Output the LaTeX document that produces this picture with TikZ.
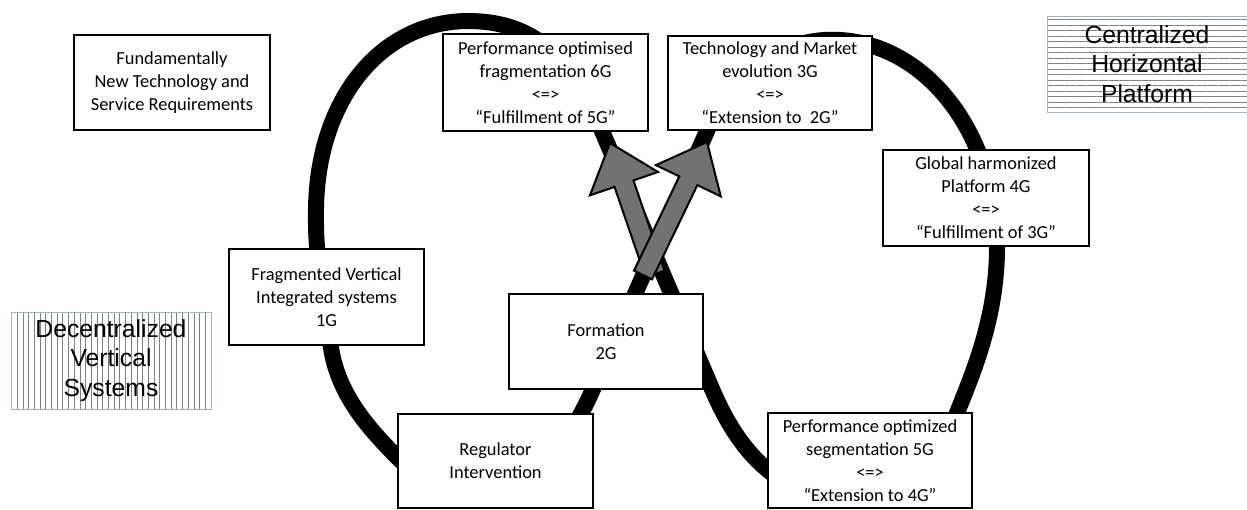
\documentclass[tikz,border=0pt]{standalone}
\usepackage{fontspec}
\setmainfont{Carlito}
\newfontfamily\arialfont{Liberation Sans}
\usetikzlibrary{calc, patterns.meta}

\definecolor{arrowgray}{RGB}{118,113,113}
\definecolor{frameblue}{RGB}{160,178,205}

\tikzset{
  stage/.style={draw=black, line width=2.5pt, fill=white, align=center,
    inner sep=0pt, font=\fontsize{18.4}{23}\selectfont},
  ring/.style={line width=16pt, black, line join=round},
  blockarrow/.style={draw=black, line width=2pt, fill=arrowgray, line join=miter},
  stripebox/.style={draw=frameblue, line width=0.8pt, align=center,
    inner sep=0pt, font=\arialfont\fontsize{24.7}{29.5}\selectfont},
}

% fat arrow from tail #1 to tip #2
\newcommand{\fatarrow}[2]{%
  \coordinate (base) at ($(#2)!43pt!(#1)$);
  \draw[blockarrow] ($(#1)!10pt!90:(#2)$) -- ($(base)!10pt!90:(#2)$)
    -- ($(base)!36pt!90:(#2)$) -- (#2) -- ($(base)!36pt!-90:(#2)$)
    -- ($(base)!10pt!-90:(#2)$) -- ($(#1)!10pt!-90:(#2)$) -- cycle;
}

\begin{document}
\begin{tikzpicture}[x=1pt, y=-1pt]
  \useasboundingbox[fill=white] (0,0) rectangle (1247,509);

  % the figure-eight cycle (starts and ends hidden in the 5G box)
  \draw[ring] (800,490) .. controls (850,512) and (935,470) .. (957,413)
    .. controls (971,377) and (997,320) .. (997,247)
    .. controls (995,130) and (925,45) .. (840,40)
    .. controls (780,36) and (728,78) .. (707,131)
    -- (593,389)
    .. controls (575,430) and (540,490) .. (480,495)
    .. controls (440,495) and (415,475) .. (398,458)
    .. controls (365,425) and (335,390) .. (330,340)
    .. controls (324,300) and (315,260) .. (316,210)
    .. controls (317,100) and (380,22) .. (467,21)
    .. controls (505,21) and (528,32) .. (547,47)
    .. controls (575,70) and (590,100) .. (602,131)
    -- (712,389)
    .. controls (730,431) and (755,470) .. (800,490) -- cycle;

  % the two crossed arrows
  \coordinate (tailA) at (655,274);
  \coordinate (tipA)  at (610,143);
  \coordinate (tailB) at (643,275);
  \coordinate (tipB)  at (707,142);
  \fatarrow{tailA}{tipA}
  \fatarrow{tailB}{tipB}

  % stages
  \node[stage, minimum width=196, minimum height=95] (fund) at (172,82.5)
    {Fundamentally\\New Technology and\\Service Requirements};
  \node[stage, minimum width=205, minimum height=97] (sixG) at (545.5,82.5)
    {Performance optimised\\fragmentation 6G\\<=>\\“Fulfillment of 5G”};
  \node[stage, minimum width=204, minimum height=94] (threeG) at (770,83)
    {Technology and Market\\evolution 3G\\<=>\\“Extension to~ 2G”};
  \node[stage, minimum width=206, minimum height=96] (fourG) at (986,198)
    {Global harmonized\\Platform 4G\\<=>\\“Fulfillment of 3G”};
  \node[stage, minimum width=195, minimum height=96] (oneG) at (326.5,297)
    {Fragmented Vertical\\Integrated systems\\1G};
  \node[stage, minimum width=194, minimum height=95] (twoG) at (606,341.5)
    {Formation\\2G};
  \node[stage, minimum width=195, minimum height=94] (reg) at (495.5,461)
    {Regulator\\Intervention};
  \node[stage, minimum width=204, minimum height=95] (fiveG) at (870,460.5)
    {Performance optimized\\segmentation 5G\\<=>\\“Extension to 4G”};

  % hatched labels
  \node[stripebox, minimum width=200, minimum height=96,
    pattern={Lines[distance=5.5pt, angle=0, line width=0.8pt]},
    pattern color=gray] (central) at (1147,64)
    {Centralized\\Horizontal\\Platform};
  \node[stripebox, minimum width=200, minimum height=97,
    pattern={Lines[distance=5.7pt, angle=90, line width=0.6pt]},
    pattern color=gray] (decentral) at (111,360.5)
    {Decentralized\\Vertical\\Systems};
\end{tikzpicture}
\end{document}
